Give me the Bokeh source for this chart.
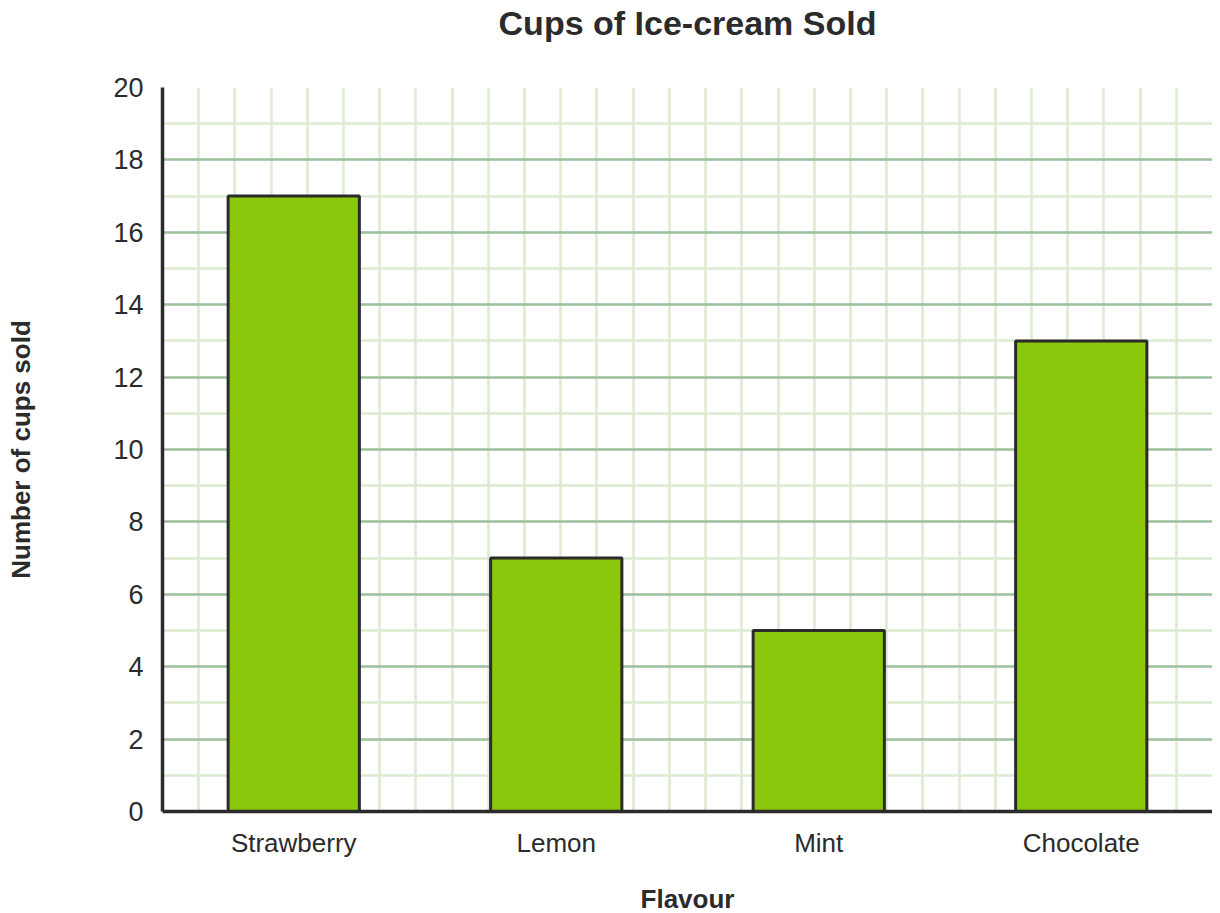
from bokeh.plotting import figure
from bokeh.models import Range1d, FactorRange, FixedTicker, Grid, LinearAxis
from bokeh.embed import file_html
from bokeh.resources import INLINE

flavours = ["Strawberry", "Lemon", "Mint", "Chocolate"]
cups = [17, 7, 5, 13]
y_ticks = [0, 2, 4, 6, 8, 10, 12, 14, 16, 18, 20]
title_text = "Cups of Ice-cream Sold"

FONT = "Liberation Sans"
TXT = "#2b2b2b"

p = figure(
    x_range=FactorRange(*flavours, range_padding=0),
    y_range=Range1d(0, 20),
    frame_width=1050, frame_height=724,
    min_border_left=162, min_border_right=0, min_border_top=87, min_border_bottom=10,
    output_backend="svg", toolbar_location=None,
)
p.x_range.factor_padding = 0
p.x_range.group_padding = 0

p.outline_line_color = None
p.background_fill_color = "white"
p.border_fill_color = "white"

bottom_axis = p.below[0]
left_axis = p.left[0]

# title drawn as the label of a bare axis above the frame
top_axis = LinearAxis(ticker=FixedTicker(ticks=[]), axis_label=title_text,
                      axis_line_color=None, major_tick_line_color=None, minor_tick_line_color=None,
                      major_tick_out=0, major_tick_in=0, minor_tick_out=0,
                      axis_label_text_font=FONT, axis_label_text_font_size="34px",
                      axis_label_text_font_style="bold", axis_label_text_color=TXT,
                      axis_label_standoff=46)
p.add_layout(top_axis, "above")

# grids
p.xgrid.grid_line_color = None
p.ygrid.grid_line_color = None

ncols = 29
vgrid = Grid(dimension=0, ticker=FixedTicker(ticks=[k * len(flavours) / ncols for k in range(1, ncols + 1)]),
             grid_line_color="#dcebd0", grid_line_width=2.5, level="underlay")
p.add_layout(vgrid)
hminor = Grid(dimension=1, ticker=FixedTicker(ticks=list(range(1, 20, 2))),
              grid_line_color="#dcebd0", grid_line_width=2.5, level="underlay")
p.add_layout(hminor)
hmajor = Grid(dimension=1, ticker=FixedTicker(ticks=y_ticks),
              grid_line_color="#9dc09d", grid_line_width=2.5, level="underlay")
p.add_layout(hmajor)

p.vbar(x=flavours, top=cups, width=0.5, bottom=0,
       fill_color="#8bc70a", line_color="#2b2b2b", line_width=3)

# axes
for ax in (bottom_axis, left_axis):
    ax.axis_line_color = TXT
    ax.axis_line_width = 3.5
    ax.major_tick_line_color = None
    ax.minor_tick_line_color = None
    ax.major_tick_out = 0
    ax.major_tick_in = 0
    ax.major_label_text_font = FONT
    ax.major_label_text_color = TXT
    ax.axis_label_text_font = FONT
    ax.axis_label_text_font_size = "26px"
    ax.axis_label_text_font_style = "bold"
    ax.axis_label_text_color = TXT

left_axis.ticker = FixedTicker(ticks=y_ticks)
left_axis.major_label_text_font_size = "27px"
left_axis.major_label_standoff = 19
left_axis.axis_label = "Number of cups sold"
left_axis.axis_label_standoff = 74

bottom_axis.major_label_text_font_size = "26px"
bottom_axis.major_label_standoff = 16
bottom_axis.axis_label = "Flavour"
bottom_axis.axis_label_standoff = 23

open("out.html", "w").write(file_html(p, INLINE))
